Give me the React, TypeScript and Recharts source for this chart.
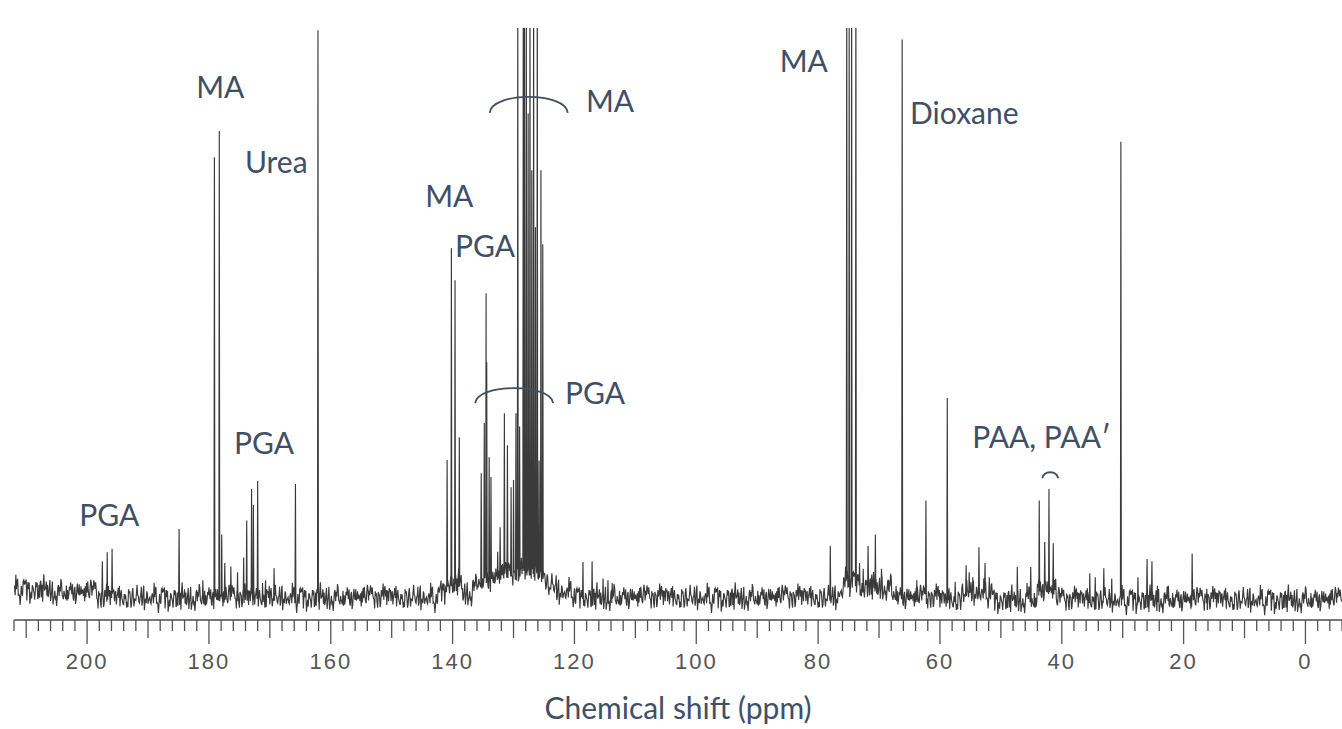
import React from 'react';
import { LineChart, Line, XAxis, YAxis, ReferenceDot } from 'recharts';

// ---------- data (ppm positions and peak heights, baseline = 0, top of plot = 100) ----------
const carbonylPpm = [197.5, 196.7, 195.9, 184.9, 181.0, 179.1, 178.3, 177.9, 177.4, 176.4, 175.3, 174.3, 173.8, 173.0, 172.7, 172.0, 171.2, 170.7, 170.1, 169.3, 165.8, 162.1];
const carbonylHeight = [6.3, 7.9, 8.5, 12, 3, 77.3, 81.9, 11, 6, 5.4, 4.4, 7.0, 13.5, 19.0, 16.2, 20.4, 2.5, 3.0, 2.0, 5.1, 19.9, 99.6];

const aromaticPpm = [140.9, 140.2, 139.6, 138.9, 135.3, 134.8, 134.5, 134.4, 134.0, 133.7, 132.6, 132.2, 131.5, 131.0, 130.4, 130.0, 129.6, 129.3, 129.0, 128.4, 128.2, 127.9, 127.6, 127.3, 127.0, 126.7, 126.4, 126.1, 125.8, 125.5, 125.2, 118.6, 117.1, 115.3, 114.5, 113.8];
const aromaticHeight = [24.1, 61.3, 55.7, 28.1, 21.8, 30.6, 53.4, 41.3, 24.6, 21.1, 8, 12.3, 32.3, 26.7, 19.3, 20.6, 32.3, 105, 30, 110, 100, 110, 85, 110, 75, 110, 65, 110, 24, 75, 62, 6.2, 6.3, 3.3, 3, 2.5];

const aliphaticPpm = [78.0, 75.3, 74.9, 74.5, 73.8, 73.2, 72.6, 71.8, 71.2, 70.6, 69.6, 68.4, 66.2, 63.8, 62.3, 58.8, 57.5, 55.7, 55.2, 54.6, 53.6, 52.6, 51.9, 47.3, 45.7, 45.1, 43.7, 42.8, 42.1, 41.4, 35.4, 34.5, 33.1, 31.8, 30.3, 27.5, 26.0, 25.2, 24.3, 22.5, 18.6, 16.2];
const aliphaticHeight = [9, 112, 100, 112, 112, 6, 5, 9, 4, 11, 5, 3, 98, 3, 17, 35, 2.7, 5.6, 4.4, 3.5, 8.8, 6, 3.5, 5.3, 2.5, 5.3, 17, 9.7, 19, 9.5, 4.2, 3.5, 5.1, 3.3, 80, 3.5, 6.7, 6.3, 2, 2, 7.7, 1.5];

// baseline level segments: [high ppm, low ppm, level]
const baselineSteps: [number, number, number][] = [
  [212, 206, 1.4],
  [206, 198.5, 0.9],
  [142.0, 141.3, 1.2],
  [141.3, 138.5, 2.5],
  [138.5, 136.8, 0.8],
  [136.8, 136.0, 1.8],
  [136.0, 133.0, 3.0],
  [133.0, 129.5, 4.0],
  [129.5, 125.2, 4.5],
  [125.2, 124.4, 3.2],
  [124.4, 123.0, 2.0],
  [123.0, 120.0, 1.0],
  [76.5, 75.8, 1.2],
  [75.8, 73.2, 2.8],
  [73.2, 68.0, 1.8],
  [68.0, 67.0, 0.8],
  [56.5, 51.5, 0.8],
  [44.0, 41.0, 1.4],
  [60.0, -6.0, -0.4],
];

// hand-read baseline noise (intensity units)
const baselineNoise = [0.6, -1.1, 0.3, 1.4, -0.5, -1.3, 0.9, 0.1, -0.7, 1.8, -0.2, -1.6, 0.4, 1.0, -0.9, 0.2, 1.3, -1.4, -0.1, 0.8, -0.6, 2.2, -1.0, 0.5, -0.3, 1.1, -1.8, 0.7, 0.0, -0.8, 1.5, -0.4, 0.3, -1.2, 0.9, 1.2, -2.1, 0.4, -0.5, 1.0, 0.2, -1.1, 1.6, -0.7, -0.2, 0.6, -1.5, 1.3, 0.1, -0.9, 0.8, -0.3, 1.9, -1.2, 0.0, 0.5, -0.8, 1.1, -1.7, 0.3, 0.7, -0.4, 1.4, -1.0, -0.6, 0.9, 0.2, -1.3, 1.2, -0.1, -2.4, 0.8, 0.4, -0.7, 1.0, -0.5, 1.7, -1.1, 0.1, 0.6, -0.9, 1.3, -0.2, -1.4, 0.5, 2.0, -0.8, 0.0, -1.2, 0.9, 0.3, -0.6, 1.5, -1.6, 0.2, 0.7, -0.3, 1.1, -1.0, -0.4, 0.8, 1.6, -1.9, 0.4, -0.1, 1.2, -0.7, 0.5, -1.3, 0.9, 0.1, -0.5, 1.4, -1.1, 0.3, -0.8, 2.3, -0.6, -1.0, 0.7, 0.2, -1.5, 1.0, -0.2, 0.6, -1.2, 1.3, -0.4, -0.9, 1.8, 0.0, -1.4, 0.5, 0.8, -0.7, 1.1, -2.0, 0.3, 0.9, -0.3, 1.5, -1.1, 0.1, -0.6, 1.2, -0.8, 0.4, -1.7, 1.0, 0.6, -0.2, -1.0, 1.4, -0.5, 0.2, -1.3, 2.1, -0.9, 0.7, -0.1, -1.6, 1.1, 0.3, -0.4, 0.9, -1.2, 1.6, -0.7, 0.0, -1.1, 1.3, 0.5, -0.8, 0.2, -1.5, 1.0, -0.3, 1.7, -1.0, 0.4, -0.6, 1.2, -2.2, 0.8, 0.1, -0.5, 1.4, -0.9, 0.6, -1.3, 0.3, 1.1, -0.2, -1.8, 0.7, 0.9, -0.4, 1.5, -1.2, 0.0, -0.7, 1.9, -0.1, -1.4, 0.5, 1.0, -0.8, 0.2, 1.3, -1.6, 0.6, -0.3, 0.8, -1.0, 1.6, -0.5, -1.1, 0.4, 1.2, -0.6, 0.1, -1.9, 1.0, 0.7, -0.2, -0.9, 1.4];

const majorTickLabels = [200, 180, 160, 140, 120, 100, 80, 60, 40, 20, 0];
const axisRange: [number, number] = [-6, 212];
const minorTickStep = 2;
const sampleStep = 0.1;
const noiseScale = 1.15;

// annotations
const labelTexts = ['PGA', 'MA', 'Urea', 'PGA', 'MA', 'PGA', 'MA', 'PGA', 'MA', 'Dioxane', 'PAA, PAA\u2032'];
const labelPpm = [201.3, 182.1, 174.1, 175.9, 144.5, 139.6, 118.1, 121.55, 86.3, 64.9, 54.7];
const labelLevel = [12.5, 87.7, 74.5, 25.2, 68.6, 59.8, 85.2, 33.9, 92.3, 83.1, 26.2];

const arcPpm = [127.5, 129.9, 41.9];
const arcLevel = [85.1, 34.1, 20.9];
const arcWidth = [78, 78, 16];
const arcRise = [16, 15, 6];

// ---------- build the spectrum trace ----------
type Pt = { ppm: number; v: number };

function levelAt(ppm: number): number {
  for (const [hi, lo, lvl] of baselineSteps) {
    if (ppm <= hi && ppm >= lo) return lvl;
  }
  return 0;
}

function buildSpectrum(): Pt[] {
  const peaks: [number, number][] = [];
  const groups: [number[], number[]][] = [
    [carbonylPpm, carbonylHeight],
    [aromaticPpm, aromaticHeight],
    [aliphaticPpm, aliphaticHeight],
  ];
  groups.forEach(([ps, hs]) => ps.forEach((p, i) => peaks.push([p, hs[i]])));
  const pts: Pt[] = [];
  const N = baselineNoise.length;
  let k = 0;
  for (let i = 0; ; i++) {
    const ppm = axisRange[1] - i * sampleStep;
    if (ppm < axisRange[0]) break;
    const n = baselineNoise[(k * 7) % N] * noiseScale;
    k++;
    const near = peaks.some(([p]) => Math.abs(p - ppm) < 0.09);
    if (!near) pts.push({ ppm: Math.round(ppm * 1000) / 1000, v: levelAt(ppm) + n });
  }
  peaks.forEach(([p, h], j) => {
    const L = levelAt(p);
    const n1 = baselineNoise[(j * 5) % N] * 0.6;
    const n2 = baselineNoise[(j * 5 + 3) % N] * 0.6;
    pts.push({ ppm: p + 0.07, v: L + n1 }, { ppm: p, v: h }, { ppm: p - 0.07, v: L + n2 });
  });
  pts.sort((a, b) => b.ppm - a.ppm);
  return pts;
}

const spectrum = buildSpectrum();

const tickValues: number[] = [];
for (let t = axisRange[1]; t >= axisRange[0]; t -= minorTickStep) tickValues.push(t);

const ANNOT = '#3f4f66';

const AxisTick = (props: any) => {
  const { x, y, payload } = props;
  const v = payload.value as number;
  const major = majorTickLabels.includes(v);
  const mid = !major && v % 10 === 0;
  const len = major ? 24 : mid ? 18 : 11;
  return (
    <g>
      <line x1={x} y1={y} x2={x} y2={y + len} stroke="#555" strokeWidth={1.3} />
      {major && (
        <text x={x} y={y + 49} textAnchor="middle" fontFamily="Liberation Sans, Arial, sans-serif" fontSize={22} letterSpacing={2} fill="#555">
          {v}
        </text>
      )}
    </g>
  );
};

export default function App() {
  return (
    <div style={{ position: 'absolute', left: 0, top: 0, width: 1342, height: 729, background: '#fff' }}>
      <LineChart width={1342} height={729} data={spectrum} margin={{ top: 28, right: 0, bottom: 49, left: 14 }}>
        <XAxis
          dataKey="ppm"
          type="number"
          domain={axisRange}
          reversed
          allowDataOverflow
          ticks={tickValues}
          interval={0}
          tickSize={0}
          tickMargin={0}
          tickLine={false}
          tick={<AxisTick />}
          height={60}
          axisLine={{ stroke: '#4d4d4d', strokeWidth: 1.5 }}
          label={{ value: 'Chemical shift (ppm)', position: 'bottom', offset: 18, fill: ANNOT, fontSize: 30, fontFamily: 'Lato, sans-serif' }}
        />
        <YAxis hide width={0} type="number" domain={[-4, 100]} allowDataOverflow />
        <Line type="linear" dataKey="v" stroke="#3a3a3a" strokeWidth={1.15} dot={false} isAnimationActive={false} />
        {labelTexts.map((t, i) => (
          <ReferenceDot
            key={'l' + i}
            x={labelPpm[i]}
            y={labelLevel[i]}
            r={0}
            ifOverflow="visible"
            shape={(p: any) => (
              <text x={p.cx} y={p.cy} fontFamily="Lato, sans-serif" fontSize={30} fill={ANNOT}>
                {t}
              </text>
            )}
          />
        ))}
        {arcPpm.map((a, i) => (
          <ReferenceDot
            key={'a' + i}
            x={a}
            y={arcLevel[i]}
            r={0}
            ifOverflow="visible"
            shape={(p: any) => {
              const w = arcWidth[i] / 2;
              const c = arcRise[i] * 1.333;
              return (
                <path
                  d={`M ${p.cx - w} ${p.cy} C ${p.cx - w + 2} ${p.cy - c}, ${p.cx + w - 2} ${p.cy - c}, ${p.cx + w} ${p.cy}`}
                  fill="none"
                  stroke={ANNOT}
                  strokeWidth={1.8}
                />
              );
            }}
          />
        ))}
      </LineChart>
    </div>
  );
}
